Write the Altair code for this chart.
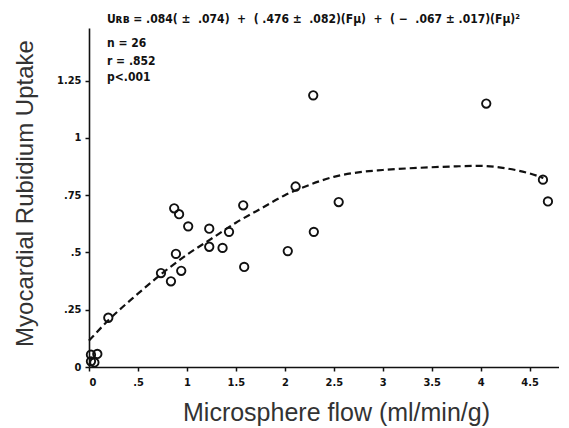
import altair as alt
import pandas as pd

# Observed data points
flow = [0.02, 0.085, 0.055, 0.02, 0.197, 0.735, 0.837, 0.87, 0.92, 0.888, 0.942, 1.013,
        1.228, 1.228, 1.364, 1.43, 1.575, 1.585, 2.03, 2.11, 2.29, 2.296, 2.55, 4.057,
        4.636, 4.687]
uptake = [0.054, 0.057, 0.02, 0.025, 0.215, 0.41, 0.374, 0.693, 0.667, 0.494, 0.42, 0.614,
          0.604, 0.525, 0.52, 0.59, 0.706, 0.437, 0.506, 0.788, 1.186, 0.59, 0.72, 1.15,
          0.818, 0.723]

# Dashed fitted curve
curve_x = [0, 0.2, 0.5, 0.75, 1.0, 1.25, 1.5, 1.75, 2.0, 2.25, 2.5, 2.75, 3.0, 3.25,
           3.5, 3.75, 4.0, 4.25, 4.5, 4.64]
curve_y = [0.115, 0.205, 0.32, 0.41, 0.49, 0.56, 0.63, 0.69, 0.75, 0.795, 0.83, 0.85,
           0.86, 0.867, 0.872, 0.876, 0.878, 0.868, 0.845, 0.825]

# Annotation texts (non-breaking spaces keep the wide spacing of the original)
S = "\u00a0"
ann_text = [
    f"U\u0280\u0299{S}={S}.084({S}\u00b1{S}{S}.074){S}{S}+{S}{S}({S}.476{S}\u00b1{S}{S}.082)(F\u03bc)"
    f"{S}{S}+{S}{S}({S}\u2212{S}{S}.067{S}\u00b1{S}.017)(F\u03bc)\u00b2",
    "n = 26", "r = .852", "p<.001"]
ann_x = [0.184, 0.184, 0.184, 0.184]
ann_y = [1.521, 1.416, 1.338, 1.267]

x_ticks = [0, 0.5, 1, 1.5, 2, 2.5, 3, 3.5, 4, 4.5]
y_ticks = [0, 0.25, 0.5, 0.75, 1, 1.25]

pts = pd.DataFrame({"flow": flow, "uptake": uptake})
crv = pd.DataFrame({"flow": curve_x, "uptake": curve_y})
ann = pd.DataFrame({"x": ann_x, "y": ann_y, "t": ann_text})

label_expr = ("datum.value > 0 && datum.value < 1 ? slice(format(datum.value, '~g'), 1) "
              ": format(datum.value, '~g')")
tick_font = "Liberation Sans Narrow, DejaVu Sans Condensed, sans-serif"

xscale = alt.Scale(domain=[0, 4.8], nice=False, zero=False)
yscale = alt.Scale(domain=[0, 1.48], nice=False, zero=False)

xaxis = alt.Axis(values=x_ticks, labelExpr=label_expr, grid=False,
                 title="Microsphere flow (ml/min/g)", titleFont="Liberation Sans",
                 titleFontSize=25, titleFontWeight="normal", titleColor="#333333",
                 titleX=247, titleY=53, titleBaseline="alphabetic", titleAlign="center",
                 labelFont=tick_font, labelFontSize=11, labelFontWeight="bold",
                 labelColor="#111111", labelPadding=5, tickSize=4, tickWidth=1.5,
                 tickColor="#111111", domainColor="#111111", domainWidth=1.6)
yaxis = alt.Axis(values=y_ticks, labelExpr=label_expr, grid=False,
                 title="Myocardial Rubidium Uptake", titleFont="Liberation Sans",
                 titleFontSize=24, titleFontWeight="normal", titleColor="#333333",
                 titleX=-64, titleY=165, titleBaseline="middle", titleAlign="center",
                 titleAngle=270,
                 labelFont=tick_font, labelFontSize=11, labelFontWeight="bold",
                 labelColor="#111111", labelPadding=4, tickSize=4, tickWidth=1.5,
                 tickColor="#111111", domainColor="#111111", domainWidth=1.6)

line = alt.Chart(crv).mark_line(color="#111111", strokeWidth=2.2, strokeDash=[7, 4],
                                interpolate="monotone").encode(
    x=alt.X("flow:Q", scale=xscale, axis=xaxis),
    y=alt.Y("uptake:Q", scale=yscale, axis=yaxis),
)

points = alt.Chart(pts).mark_point(shape="circle", filled=False, color="#111111",
                                   size=70, strokeWidth=1.9, opacity=1).encode(
    x=alt.X("flow:Q", scale=xscale),
    y=alt.Y("uptake:Q", scale=yscale),
)

text = alt.Chart(ann).mark_text(align="left", baseline="middle", font=tick_font,
                                fontSize=12, fontWeight="bold", color="#111111").encode(
    x=alt.X("x:Q", scale=xscale),
    y=alt.Y("y:Q", scale=yscale),
    text="t:N",
)

chart = alt.layer(line, points, text).properties(
    width=470, height=339,
    autosize=alt.AutoSizeParams(type="none"),
    padding={"left": 81, "top": 20, "right": 0, "bottom": 59},
    background="white",
).configure_view(stroke=None)

chart.save("out.html", embed_options={"renderer": "svg", "actions": False})
